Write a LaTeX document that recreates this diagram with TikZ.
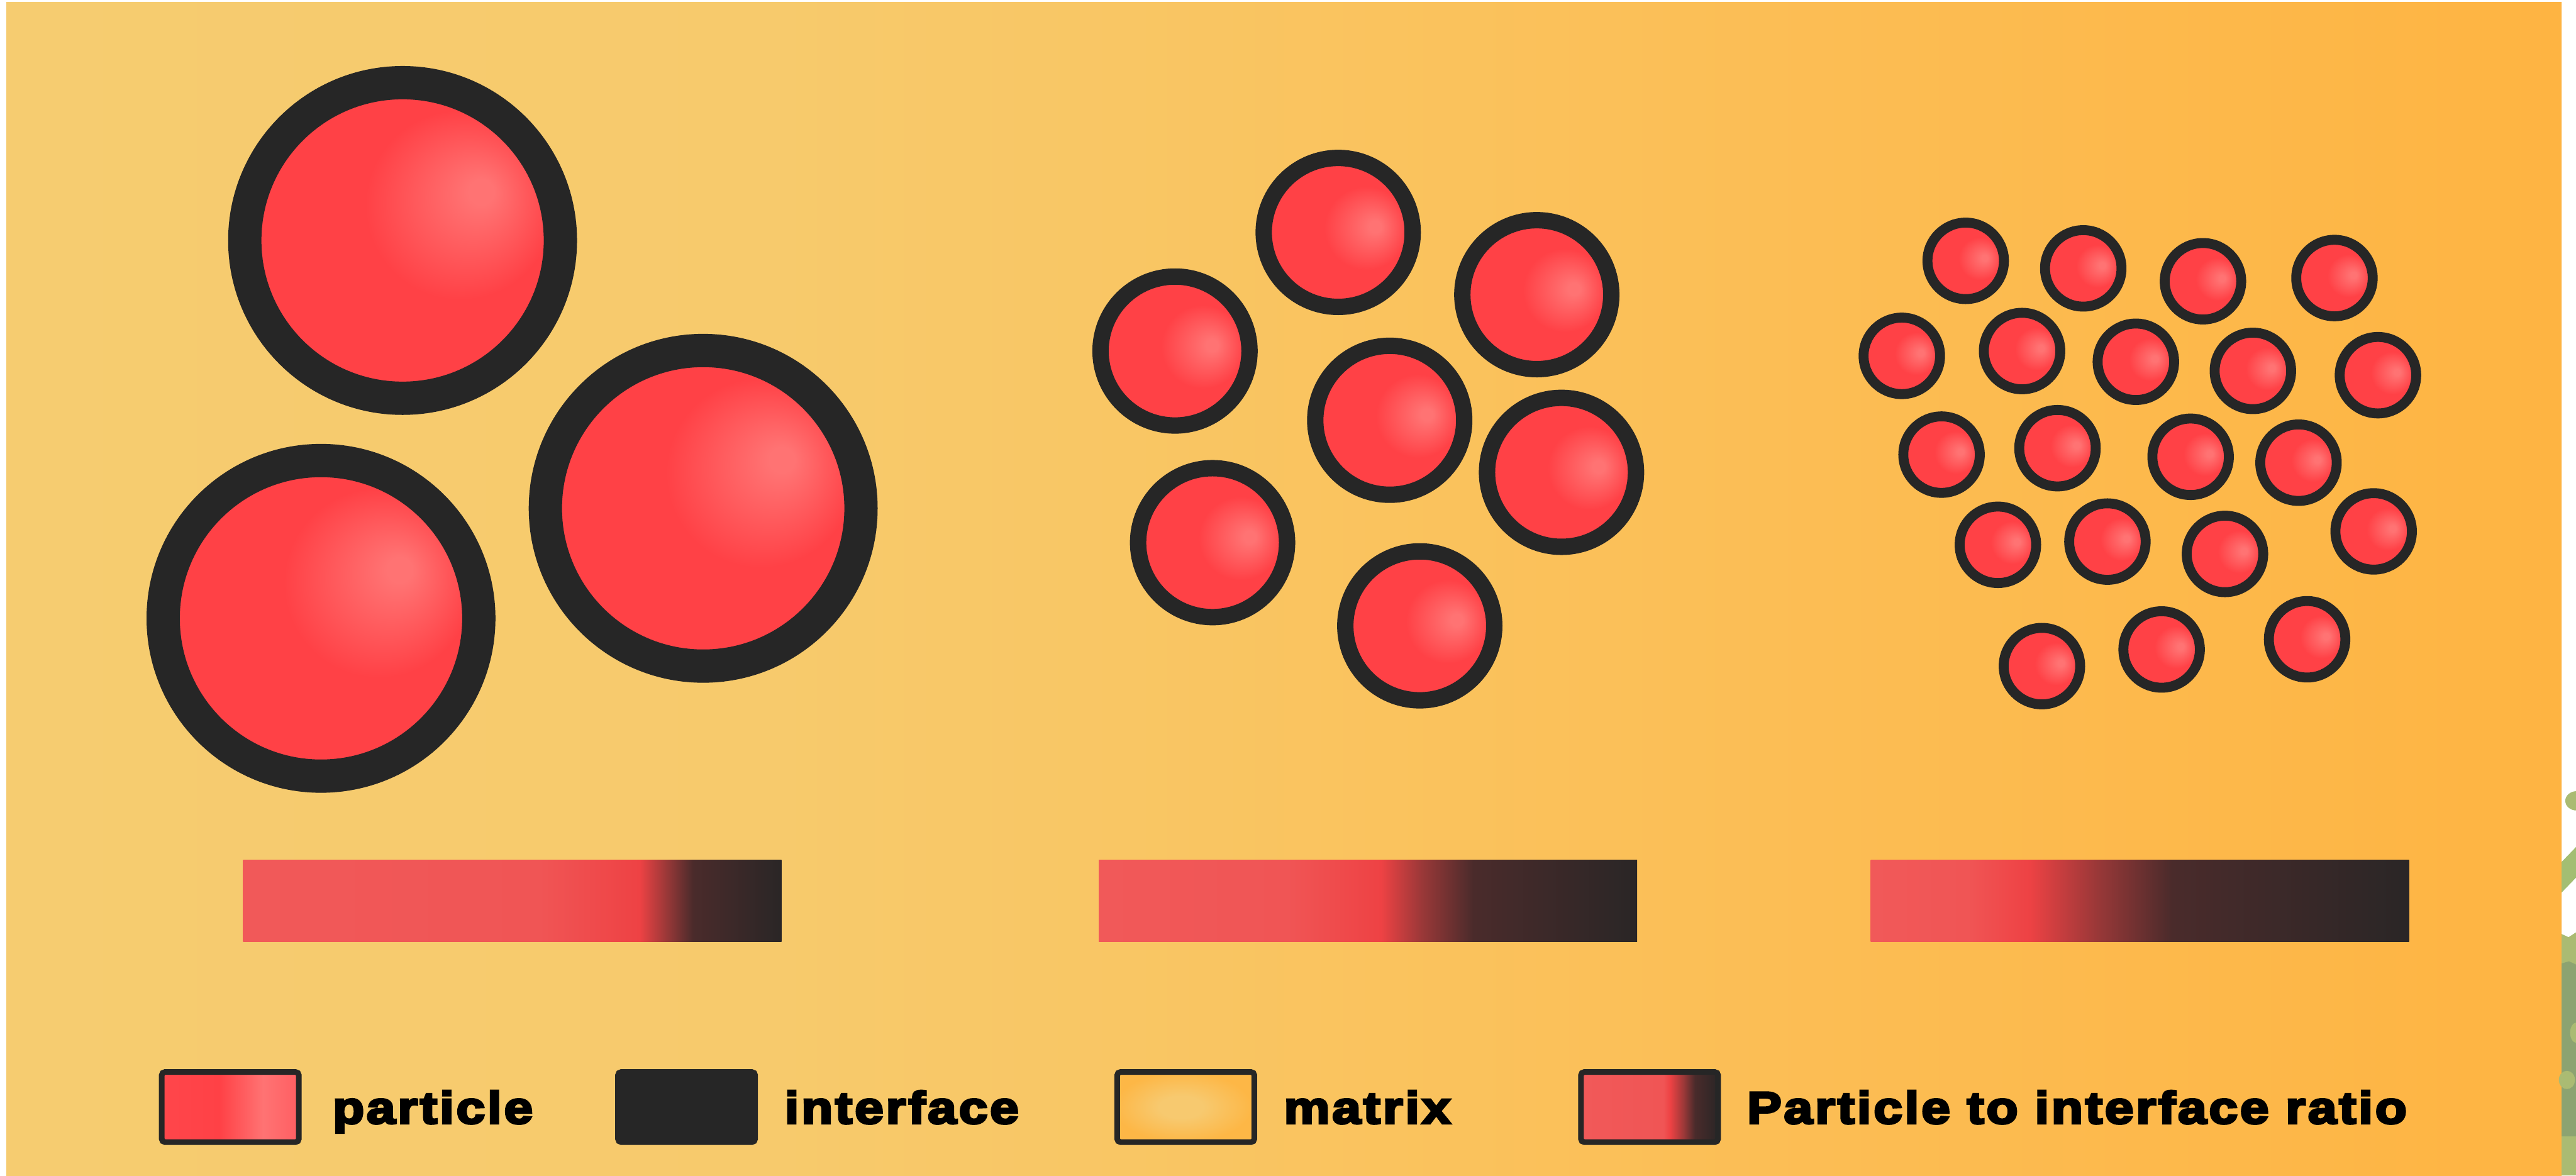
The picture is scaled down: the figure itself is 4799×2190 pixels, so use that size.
\documentclass[tikz,border=0pt]{standalone}
\usepackage{fontspec}
\newfontfamily\legendfont{Liberation Sans}[LetterSpace=5, FakeStretch=1.15, BoldFeatures={FakeBold=5}]

% palette
\definecolor{ink}{HTML}{262626}
\definecolor{pred}{HTML}{FF4146}
\definecolor{hl}{HTML}{FF7373}
\definecolor{bg0}{HTML}{F6CC70}
\definecolor{bg1}{HTML}{F7CA6C}
\definecolor{bg2}{HTML}{FAC35E}
\definecolor{bg3}{HTML}{FCBC52}
\definecolor{bg4}{HTML}{FEB442}
\definecolor{rA}{HTML}{F15959}
\definecolor{rB}{HTML}{F05555}
\definecolor{rC}{HTML}{EE4244}
\definecolor{rD}{HTML}{9A3838}
\definecolor{rE}{HTML}{4A2B2B}
\definecolor{rF}{HTML}{2A2626}
\definecolor{glow}{HTML}{F7C96F}
\definecolor{glowedge}{HTML}{FDB746}
\definecolor{keyred}{HTML}{FF464B}
\definecolor{keyredend}{HTML}{FF5E62}
\definecolor{leafl}{HTML}{AABB73}
\definecolor{leafm}{HTML}{A3BE73}
\definecolor{leafd}{HTML}{8CA371}

% shadings (the path spans 25bp..75bp, radius <-> 25bp)
\pgfdeclarehorizontalshading{matrixbg}{100bp}{color(0bp)=(bg0); color(25bp)=(bg0); color(40bp)=(bg1); color(52bp)=(bg2); color(62bp)=(bg3); color(75bp)=(bg4); color(100bp)=(bg4)}
\pgfdeclareradialshading{pshade}{\pgfpoint{13bp}{2bp}}{color(0bp)=(hl); color(2bp)=(hl); color(14bp)=(pred); color(50bp)=(pred)}
\pgfdeclareradialshading{pshadebig}{\pgfpoint{13bp}{8bp}}{color(0bp)=(hl); color(2bp)=(hl); color(15bp)=(pred); color(50bp)=(pred)}
\pgfdeclarehorizontalshading{barone}{100bp}{color(0bp)=(rA); color(25bp)=(rA); color(52.5bp)=(rB); color(61.8bp)=(rC); color(64.3bp)=(rD); color(66.8bp)=(rE); color(75bp)=(rF); color(100bp)=(rF)}
\pgfdeclarehorizontalshading{bartwo}{100bp}{color(0bp)=(rA); color(25bp)=(rA); color(42.5bp)=(rB); color(51.2bp)=(rC); color(55bp)=(rD); color(59.8bp)=(rE); color(75bp)=(rF); color(100bp)=(rF)}
\pgfdeclarehorizontalshading{barthree}{100bp}{color(0bp)=(rA); color(25bp)=(rA); color(34bp)=(rB); color(39.7bp)=(rC); color(46bp)=(rD); color(53bp)=(rE); color(75bp)=(rF); color(100bp)=(rF)}
\pgfdeclarehorizontalshading{keyparticle}{100bp}{color(0bp)=(keyred); color(25bp)=(keyred); color(46bp)=(pred); color(62bp)=(hl); color(75bp)=(keyredend); color(100bp)=(keyredend)}
\pgfdeclareradialshading{keymatrix}{\pgfpoint{-2bp}{0bp}}{color(0bp)=(glow); color(8bp)=(glow); color(25bp)=(glowedge); color(50bp)=(glowedge)}
\pgfdeclarehorizontalshading{keyratio}{100bp}{color(0bp)=(rA); color(25bp)=(rA); color(55bp)=(rB); color(57.5bp)=(rC); color(62.5bp)=(rD); color(66.5bp)=(rE); color(75bp)=(rF); color(100bp)=(rF)}

\tikzset{
  particle/.style={circle, inner sep=0pt, draw=ink, shade, shading=pshade},
  bigp/.style={particle, minimum size=58.8mm, line width=6.2mm, shading=pshadebig},
  midp/.style={particle, minimum size=27.75mm, line width=3.05mm},
  smallp/.style={particle, minimum size=14.25mm, line width=1.85mm},
  ratiobar/.style={rectangle, inner sep=0pt, shade, minimum width=100.3mm, minimum height=15.2mm},
  keybox/.style={rectangle, inner sep=0pt, draw=ink, line width=1.05mm, rounded corners=0.6mm,
    minimum width=25.55mm, minimum height=13.05mm},
  keytext/.style={anchor=base west, inner sep=0pt, text=black,
    font=\legendfont\bfseries\fontsize{23.9pt}{28pt}\selectfont},
}

\begin{document}
\begin{tikzpicture}[x=0.1mm, y=-0.1mm]
\useasboundingbox (0,0) rectangle (4799,2190);
\fill[white] (0,0) rectangle (4799,2190);

% matrix background
\shade[shading=matrixbg] (12,4) rectangle (4772,2190);

% foliage cut off at the right edge
\fill[leafl] (4800,1492) ellipse [x radius=2.1mm, y radius=1.8mm];
\fill[leafm] (4772,1606) -- (4799,1578) -- (4799,1635) -- (4772,1663) -- cycle;
\fill[leafl] (4772,1740) -- (4785,1746) -- (4799,1737) -- (4799,2190) -- (4772,2190) -- cycle;
\fill[leafd] (4772,1795) -- (4786,1791) -- (4799,1797) -- (4799,2117) -- (4772,2117) -- cycle;
\fill[leafl] (4800,1924) ellipse [x radius=1.2mm, y radius=1.9mm];
\fill[leafl] (4782,2012) ellipse [x radius=1.5mm, y radius=1.7mm];

% large particles
\node[bigp] (L1) at (750,448) {};
\node[bigp] (L2) at (598,1152) {};
\node[bigp] (L3) at (1310,947) {};

% medium particles
\node[midp] (M1) at (2493,433) {};
\node[midp] (M2) at (2863,549) {};
\node[midp] (M3) at (2189,654) {};
\node[midp] (M4) at (2589,783) {};
\node[midp] (M5) at (2909,880) {};
\node[midp] (M6) at (2259,1011) {};
\node[midp] (M7) at (2645,1166) {};

% small particles
\node[smallp] (S1) at (3662,486) {};
\node[smallp] (S2) at (3881,500) {};
\node[smallp] (S3) at (4104,524) {};
\node[smallp] (S4) at (4349,518) {};
\node[smallp] (S5) at (3543,663) {};
\node[smallp] (S6) at (3767,654) {};
\node[smallp] (S7) at (3979,674) {};
\node[smallp] (S8) at (4197,691) {};
\node[smallp] (S9) at (4430,699) {};
\node[smallp] (S10) at (3617,847) {};
\node[smallp] (S11) at (3833,835) {};
\node[smallp] (S12) at (4081,851) {};
\node[smallp] (S13) at (4282,862) {};
\node[smallp] (S14) at (4422,990) {};
\node[smallp] (S15) at (3722,1015) {};
\node[smallp] (S16) at (3926,1009) {};
\node[smallp] (S17) at (4145,1032) {};
\node[smallp] (S18) at (3804,1241) {};
\node[smallp] (S19) at (4027,1210) {};
\node[smallp] (S20) at (4298,1191) {};

% particle-to-interface ratio bars
\node[ratiobar, shading=barone] (B1) at (954.5,1678) {};
\node[ratiobar, shading=bartwo] (B2) at (2548.5,1678) {};
\node[ratiobar, shading=barthree] (B3) at (3986.5,1678) {};

% legend
\node[keybox, shade, shading=keyparticle] (K1) at (429,2062.5) {};
\node[keytext] (T1) at (619,2093) {particle};
\node[keybox, fill=ink] (K2) at (1279,2062.5) {};
\node[keytext] (T2) at (1461,2093) {interface};
\node[keybox, shade, shading=keymatrix] (K3) at (2209,2062.5) {};
\node[keytext] (T3) at (2391,2093) {matrix};
\node[keybox, shade, shading=keyratio] (K4) at (3073,2062.5) {};
\node[keytext] (T4) at (3254,2093) {Particle to interface ratio};
\end{tikzpicture}
\end{document}
